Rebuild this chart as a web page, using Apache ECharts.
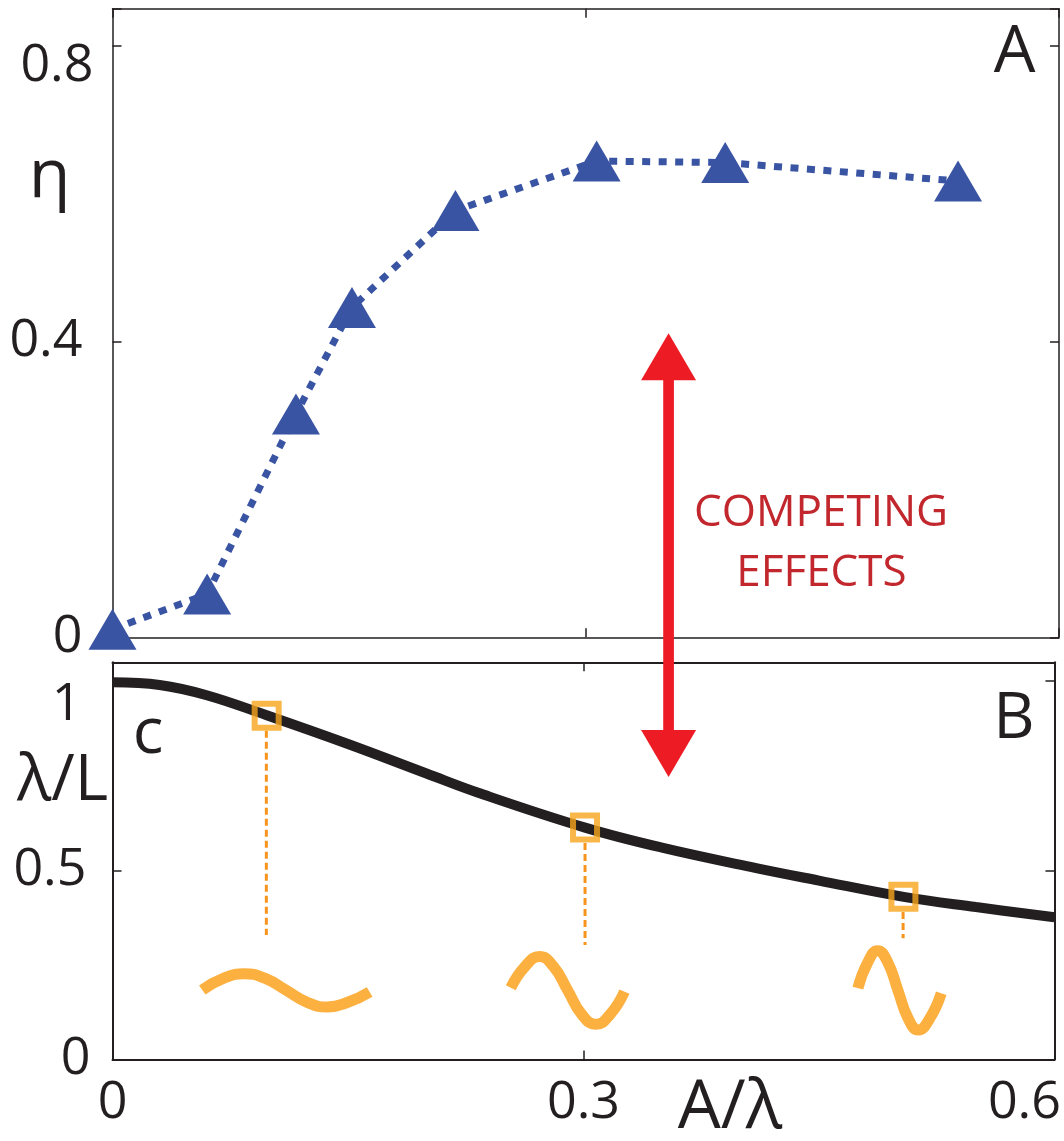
<!DOCTYPE html>
<html><head><meta charset="utf-8">
<style>html,body{margin:0;padding:0;background:#fff}#c{width:1064px;height:1141px}</style>
<script src="https://cdn.jsdelivr.net/npm/echarts@6/dist/echarts.min.js"></script>
</head><body><div id="c"></div>
<script>
// ---- data ----
const xTicks = [0, 0.3, 0.6];
const xTickLabels = ['0', '0.3', '0.6'];
const etaTicks = [0, 0.4, 0.8];
const etaTickLabels = ['0', '0.4', '0.8'];
const ratioTicks = [0, 0.5, 1];
const ratioTickLabels = ['0', '0.5', '1'];

const etaX = [0, 0.06, 0.1163, 0.1518, 0.2174, 0.3069, 0.3884, 0.536];
const etaY = [0.011, 0.0585, 0.302, 0.446, 0.577, 0.644, 0.642, 0.617];

const curveX = [0, 0.03, 0.06, 0.0982, 0.15, 0.2, 0.233, 0.301, 0.35, 0.41, 0.45, 0.504, 0.55, 0.6];
const curveY = [0.997, 0.99, 0.963, 0.91, 0.834, 0.756, 0.705, 0.613, 0.56, 0.506, 0.473, 0.43, 0.403, 0.376];

const squareX = [0.0982, 0.301, 0.5038];
const squareY = [0.909, 0.613, 0.43];
// dashed drop lines: x, top, bottom
const dropX = [0.098, 0.301, 0.5036];
const dropTop = [0.869, 0.572, 0.39];
const dropBottom = [0.329, 0.303, 0.3206];

// wave glyphs (x, y)
const wave1X = [0.0572, 0.0706, 0.0840, 0.0973, 0.1106, 0.1237, 0.1368, 0.1503, 0.1638];
const wave1Y = [0.1839, 0.2143, 0.2270, 0.2143, 0.1831, 0.1519, 0.1389, 0.1521, 0.1786];
const wave2X = [0.2537, 0.2628, 0.2719, 0.2809, 0.2900, 0.2989, 0.3080, 0.3170, 0.3261];
const wave2Y = [0.1897, 0.2458, 0.2720, 0.2458, 0.1825, 0.1193, 0.0931, 0.1193, 0.1794];
const wave3X = [0.4748, 0.4811, 0.4873, 0.4938, 0.5003, 0.5068, 0.5133, 0.5206, 0.5279];
const wave3Y = [0.1884, 0.2571, 0.2878, 0.2571, 0.1829, 0.1087, 0.0780, 0.1087, 0.1751];

// double arrow: x, tip in top panel (eta), tip in bottom panel (lambda/L)
const arrowX = 0.3525;
const arrowTopEta = 0.411;
const arrowBottomRatio = 0.7466;

// ---- build ----
const zip = (a, b) => a.map((v, i) => [v, b[i]]);
const INK = '#231f20';
const FONT = 'Open Sans';
const find = (ticks, labels, v) => {
  for (let i = 0; i < ticks.length; i++) if (Math.abs(ticks[i] - v) < 1e-9) return labels[i];
  return null;
};
const rs = (extra) => Object.assign({fontSize: 52, fontFamily: FONT, color: INK}, extra);

const chart = echarts.init(document.getElementById('c'), null, {renderer: 'canvas'});

function xAxisDef(grid, pos, showLabel, w) {
  return {
    type: 'value', gridIndex: grid, position: pos, min: 0, max: 0.6, interval: 0.3,
    axisLine: {show: true, onZero: false, lineStyle: {color: INK, width: w}},
    axisTick: {show: true, inside: true, length: 9, lineStyle: {color: INK, width: 1.5}},
    splitLine: {show: false},
    axisLabel: showLabel ? {
      show: true, margin: 18,
      formatter: v => {
        const t = find(xTicks, xTickLabels, v);
        if (t === null) return '';
        if (Math.abs(v - 0.6) < 1e-9) return '{r|' + t + '}';
        return '{n|' + t + '}';
      },
      rich: {n: rs({}), r: rs({padding: [0, 60, 0, 0]})}
    } : {show: false}
  };
}
function yAxisDef(grid, pos, max, interval, showLabel, w, labelCfg) {
  return {
    type: 'value', gridIndex: grid, position: pos, min: 0, max: max, interval: interval,
    axisLine: {show: true, onZero: false, lineStyle: {color: INK, width: w}},
    axisTick: {show: true, inside: true, length: 9, lineStyle: {color: INK, width: 1.5}},
    splitLine: {show: false},
    axisLabel: showLabel ? labelCfg : {show: false}
  };
}

const etaLabelCfg = {
  show: true, margin: 19,
  formatter: v => {
    const t = find(etaTicks, etaTickLabels, v);
    if (t === null) return '';
    if (Math.abs(v - 0.8) < 1e-9) return '{a|' + t + '}';
    return '{b|' + t + '}';
  },
  rich: {a: rs({padding: [42, 0, 0, 0]}), b: rs({padding: [0, 11, 0, 0]})}
};
const ratioLabelCfg = {
  show: true, margin: 22,
  formatter: v => {
    const t = find(ratioTicks, ratioTickLabels, v);
    if (t === null) return '';
    if (Math.abs(v - 1) < 1e-9) return '{a|' + t + '}';
    if (Math.abs(v - 0.5) < 1e-9) return '{b|' + t + '}';
    return '{c|' + t + '}';
  },
  rich: {a: rs({padding: [48, 9, 0, 0]}), b: rs({padding: [0, 4, 0, 0]}), c: rs({})}
};

const BLUE = '#3a54a4';
const ORANGE_SQ = '#f8a51b';
const ORANGE_WAVE = '#fbb040';
const ORANGE_DASH = '#f7941d';

const series = [
  {
    type: 'line', xAxisIndex: 0, yAxisIndex: 0, data: zip(etaX, etaY), clip: false,
    symbol: 'triangle', symbolSize: [48, 41], showSymbol: true,
    itemStyle: {color: BLUE},
    lineStyle: {color: BLUE, width: 7, type: [8, 8.5], cap: 'butt'},
    z: 3, silent: true, animation: false
  },
  {
    type: 'line', xAxisIndex: 2, yAxisIndex: 2, data: zip(curveX, curveY),
    smooth: 0.4, symbol: 'none',
    lineStyle: {color: INK, width: 10}, z: 3, silent: true, animation: false
  },
  {
    type: 'scatter', xAxisIndex: 2, yAxisIndex: 2, data: zip(squareX, squareY),
    symbol: 'rect', symbolSize: 24,
    itemStyle: {color: 'rgba(0,0,0,0)', borderColor: ORANGE_SQ, borderWidth: 6},
    z: 5, silent: true, animation: false
  }
];
dropX.forEach((x, i) => {
  series.push({
    type: 'line', xAxisIndex: 2, yAxisIndex: 2, data: [[x, dropTop[i]], [x, dropBottom[i]]],
    symbol: 'none', lineStyle: {color: ORANGE_DASH, width: 3, type: [7, 4], cap: 'butt'},
    z: 2, silent: true, animation: false
  });
});
[[wave1X, wave1Y], [wave2X, wave2Y], [wave3X, wave3Y]].forEach(w => {
  series.push({
    type: 'line', xAxisIndex: 2, yAxisIndex: 2, data: zip(w[0], w[1]),
    smooth: 0.5, symbol: 'none',
    lineStyle: {color: ORANGE_WAVE, width: 11, cap: 'butt', join: 'round'},
    z: 2, silent: true, animation: false
  });
});

const textStyle = (t, x, y, size, color, align) => ({
  type: 'text', x: x, y: y, z: 20,
  style: {text: t, fontSize: size, fontFamily: FONT, fill: color || INK, align: align || 'center', verticalAlign: 'middle'}
});

chart.setOption({
  animation: false,
  backgroundColor: '#fff',
  grid: [
    {left: 112.5, top: 8.7, width: 946.5, height: 628.6},
    {left: 112.5, top: 662.3, width: 946.5, height: 397.2}
  ],
  xAxis: [
    xAxisDef(0, 'bottom', false, 1.5),
    xAxisDef(0, 'top', false, 1.5),
    xAxisDef(1, 'bottom', true, 2),
    xAxisDef(1, 'top', false, 2)
  ],
  yAxis: [
    yAxisDef(0, 'left', 0.85, 0.4, true, 1.5, etaLabelCfg),
    yAxisDef(0, 'right', 0.85, 0.4, false, 1.5),
    yAxisDef(1, 'left', 1.05, 0.5, true, 2, ratioLabelCfg),
    yAxisDef(1, 'right', 1.05, 0.5, false, 2)
  ],
  series: series
});

// annotations
const pTop = chart.convertToPixel({xAxisIndex: 0, yAxisIndex: 0}, [arrowX, arrowTopEta]);
const pBot = chart.convertToPixel({xAxisIndex: 2, yAxisIndex: 2}, [arrowX, arrowBottomRatio]);
const RED = '#ed1c24';
const headH = 47, headW = 55, shaftW = 10.7;
const ax = pTop[0];
chart.setOption({
  graphic: [
    {type: 'rect', z: 30, shape: {x: ax - shaftW / 2, y: pTop[1] + headH - 1, width: shaftW, height: (pBot[1] - headH + 1) - (pTop[1] + headH - 1)}, style: {fill: RED}},
    {type: 'polygon', z: 30, shape: {points: [[ax, pTop[1]], [ax - headW / 2, pTop[1] + headH], [ax + headW / 2, pTop[1] + headH]]}, style: {fill: RED}},
    {type: 'polygon', z: 30, shape: {points: [[ax, pBot[1]], [ax - headW / 2, pBot[1] - headH], [ax + headW / 2, pBot[1] - headH]]}, style: {fill: RED}},
    textStyle('COMPETING', 821, 513, 44, '#c1272d'),
    textStyle('EFFECTS', 821.5, 573, 44, '#c1272d'),
    textStyle('A', 1014.5, 53, 66),
    textStyle('B', 1014, 720, 64),
    textStyle('c', 148, 735, 64),
    textStyle('\u03b7', 49.5, 178, 68),
    textStyle('\u03bb/L', 62.5, 782, 64),
    textStyle('A/\u03bb', 730, 1109, 68)
  ]
});
</script>
</body></html>
